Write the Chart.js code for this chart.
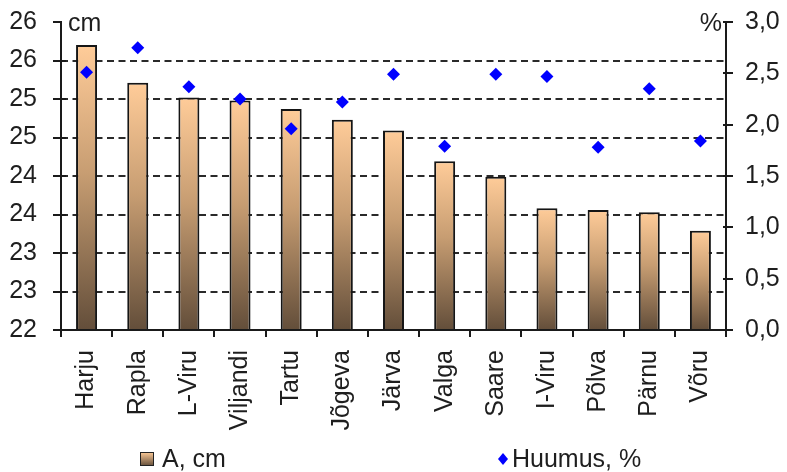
<!DOCTYPE html>
<html>
<head>
<meta charset="utf-8">
<script src="https://cdn.jsdelivr.net/npm/chart.js@4.4.1/dist/chart.umd.min.js"></script>
<style>
  html, body { margin: 0; padding: 0; background: #fff; }
  #wrap { width: 787px; height: 472px; }
</style>
</head>
<body>
<div id="wrap"><canvas id="c" width="787" height="472"></canvas></div>
<script>
// Counties and their topsoil (A horizon) depth and humus content
const counties = ['Harju', 'Rapla', 'L-Viru', 'Viljandi', 'Tartu', 'Jõgeva', 'Järva', 'Valga', 'Saare', 'I-Viru', 'Põlva', 'Pärnu', 'Võru'];
const horizonDepth = [25.70, 25.21, 25.02, 24.98, 24.87, 24.73, 24.59, 24.19, 23.99, 23.58, 23.56, 23.53, 23.29];
const humusPct = [2.51, 2.75, 2.37, 2.25, 1.96, 2.22, 2.49, 1.79, 2.49, 2.47, 1.78, 2.35, 1.84];

// Axis ranges and the labels printed at each step
const depthRange = [22, 26, 0.5];
const depthTickLabels = ['22', '23', '23', '24', '24', '25', '25', '26', '26'];
const humusRange = [0, 3, 0.5];
const humusTickLabels = ['0,0', '0,5', '1,0', '1,5', '2,0', '2,5', '3,0'];

const seriesNames = ['A, cm', 'Huumus, %'];
const axisUnits = ['cm', '%'];

const FONT = '"Liberation Sans", Arial, sans-serif';
const FSIZE = 25;
const TEXT = '#1e1e1e';
const PEACH = '#FFCC99';
const BROWN = '#634E3A';
const BLUE = '#0000FF';

function barFill(ctx) {
  const chart = ctx.chart;
  if (!chart.chartArea || ctx.type !== 'data') return '#C9A27A';
  const y = chart.scales.y;
  const top = y.getPixelForValue(ctx.raw);
  const bottom = y.getPixelForValue(depthRange[0]);
  const g = chart.ctx.createLinearGradient(0, top, 0, bottom);
  g.addColorStop(0, PEACH);
  g.addColorStop(0.45, '#C79D72');
  g.addColorStop(1, BROWN);
  return g;
}

function fixWidth(w) {
  return (s) => { s.width = w; s.paddingTop = 0; s.paddingBottom = 0; };
}

// Solid axis lines with tick marks that cross the line, plus the legend row
const axesAndLegend = {
  id: 'axesAndLegend',
  afterDatasetsDraw(chart) {
    const { ctx, chartArea: a, scales } = chart;
    const yL = scales.y, yR = scales.y2;
    ctx.save();
    ctx.strokeStyle = '#1a1a1a';
    ctx.lineWidth = 2;
    ctx.lineCap = 'butt';

    // left axis
    ctx.beginPath();
    ctx.moveTo(a.left, a.top - 1);
    ctx.lineTo(a.left, a.bottom);
    for (let v = depthRange[0]; v <= depthRange[1] + 1e-9; v += depthRange[2]) {
      const py = Math.round(yL.getPixelForValue(v));
      const right = (v >= depthRange[1] - 1e-9 || v <= depthRange[0] + 1e-9) ? a.left : a.left + 5;
      ctx.moveTo(a.left - 8, py);
      ctx.lineTo(right, py);
    }
    ctx.stroke();

    // right axis
    ctx.beginPath();
    ctx.moveTo(a.right, a.top - 1);
    ctx.lineTo(a.right, a.bottom);
    for (let v = humusRange[0]; v <= humusRange[1] + 1e-9; v += humusRange[2]) {
      const py = Math.round(yR.getPixelForValue(v));
      ctx.moveTo(a.right - 3, py);
      ctx.lineTo(a.right + 7, py);
    }
    ctx.stroke();

    // category axis
    ctx.beginPath();
    ctx.moveTo(a.left - 8, a.bottom);
    ctx.lineTo(a.right + 7, a.bottom);
    const n = counties.length;
    const step = (a.right - a.left) / n;
    for (let i = 0; i <= n; i++) {
      const px = Math.round(a.left + i * step);
      ctx.moveTo(px, a.bottom);
      ctx.lineTo(px, a.bottom + 7);
    }
    ctx.stroke();

    // unit captions
    ctx.fillStyle = TEXT;
    ctx.font = FSIZE + 'px ' + FONT;
    ctx.textBaseline = 'alphabetic';
    ctx.textAlign = 'left';
    ctx.fillText(axisUnits[0], a.left + 7, a.top + 9);
    ctx.textAlign = 'right';
    ctx.fillText(axisUnits[1], a.right - 4, a.top + 9);

    // legend
    const ly = 459;
    const bx = 140, bs = 14;
    const g = ctx.createLinearGradient(0, ly - bs / 2, 0, ly + bs / 2);
    g.addColorStop(0, PEACH);
    g.addColorStop(1, BROWN);
    ctx.fillStyle = g;
    ctx.fillRect(bx, ly - bs / 2, bs, bs);
    ctx.lineWidth = 1;
    ctx.strokeStyle = '#222';
    ctx.strokeRect(bx + 0.5, ly - bs / 2 + 0.5, bs - 1, bs - 1);
    ctx.fillStyle = TEXT;
    ctx.textAlign = 'left';
    ctx.textBaseline = 'middle';
    ctx.fillText(seriesNames[0], bx + 22, ly + 1);

    const dx = 503;
    ctx.fillStyle = BLUE;
    ctx.beginPath();
    ctx.moveTo(dx, ly - 6);
    ctx.lineTo(dx + 5, ly);
    ctx.lineTo(dx, ly + 6);
    ctx.lineTo(dx - 5, ly);
    ctx.closePath();
    ctx.fill();
    ctx.fillStyle = TEXT;
    ctx.fillText(seriesNames[1], dx + 9, ly + 1);
    ctx.restore();
  }
};

new Chart(document.getElementById('c'), {
  type: 'bar',
  data: {
    labels: counties,
    datasets: [
      {
        type: 'line',
        label: seriesNames[1],
        data: humusPct,
        yAxisID: 'y2',
        showLine: false,
        pointStyle: 'rectRot',
        pointRadius: 6.5,
        pointBackgroundColor: BLUE,
        pointBorderColor: BLUE,
        pointBorderWidth: 0,
        order: 0
      },
      {
        type: 'bar',
        label: seriesNames[0],
        data: horizonDepth,
        yAxisID: 'y',
        backgroundColor: barFill,
        borderColor: '#151515',
        borderWidth: 2,
        borderSkipped: 'bottom',
        barPercentage: 0.41,
        categoryPercentage: 1,
        order: 1
      }
    ]
  },
  plugins: [axesAndLegend],
  options: {
    responsive: false,
    animation: false,
    devicePixelRatio: 1,
    layout: { padding: { top: 22, left: 0, right: 0, bottom: 0 } },
    plugins: { legend: { display: false }, tooltip: { enabled: false } },
    scales: {
      x: {
        offset: true,
        grid: { display: false, drawTicks: false },
        border: { display: false },
        ticks: {
          autoSkip: false,
          maxRotation: 90,
          minRotation: 90,
          padding: 20,
          color: TEXT,
          font: { family: FONT, size: FSIZE }
        },
        afterFit(s) { s.height = 142; s.paddingLeft = 0; s.paddingRight = 0; }
      },
      y: {
        position: 'left',
        min: depthRange[0],
        max: depthRange[1],
        ticks: {
          stepSize: depthRange[2],
          padding: 24,
          color: TEXT,
          font: { family: FONT, size: FSIZE },
          callback: (v, i) => depthTickLabels[i]
        },
        grid: {
          drawTicks: false,
          lineWidth: 2,
          color: (c) => (c.tick && (c.tick.value <= depthRange[0] || c.tick.value >= depthRange[1])) ? 'rgba(0,0,0,0)' : '#2a2a2a'
        },
        border: { display: false, dash: [7, 4.5] },
        afterFit: fixWidth(61)
      },
      y2: {
        position: 'right',
        min: humusRange[0],
        max: humusRange[1],
        ticks: {
          stepSize: humusRange[2],
          padding: 19,
          color: TEXT,
          font: { family: FONT, size: FSIZE },
          callback: (v, i) => humusTickLabels[i]
        },
        grid: { display: false, drawTicks: false },
        border: { display: false },
        afterFit: fixWidth(61)
      }
    }
  }
});
</script>
</body>
</html>
